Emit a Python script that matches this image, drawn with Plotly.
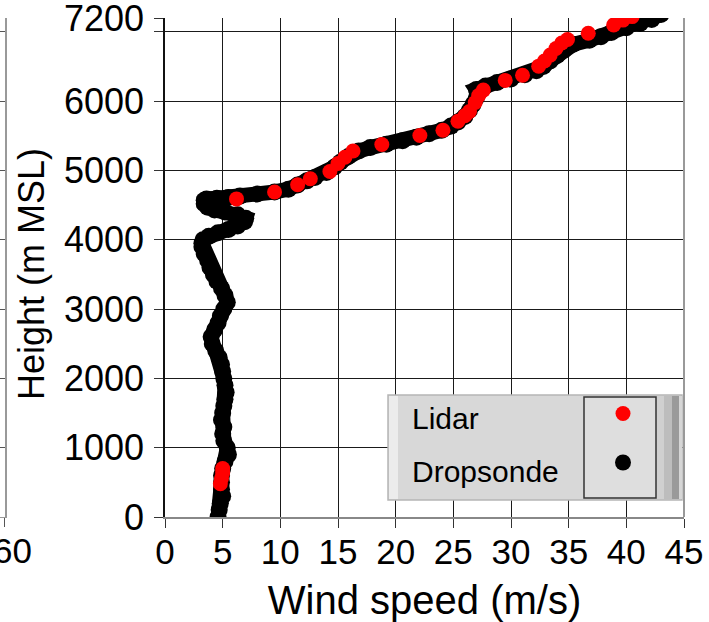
import plotly.graph_objects as go

# ---------------- data ----------------
drop_height = [0, 100, 200, 300, 400, 500, 600, 700, 800, 900, 1000, 1100, 1200, 1300,
               1400, 1500, 1600, 1700, 1800, 1900, 2000, 2100, 2200, 2300, 2400, 2500,
               2600, 2700, 2800, 2900, 3000, 3100, 3200, 3300, 3400, 3500, 3600, 3700,
               3800, 3900, 3950, 4000, 4050, 4100, 4150, 4200, 4260, 4310, 4360, 4400,
               4430, 4470, 4520, 4570, 4590, 4600, 4610, 4630, 4660, 4690, 4730, 4790,
               4850, 4900, 4970, 5050, 5120, 5200, 5280, 5330, 5380, 5430, 5480, 5530,
               5580, 5640, 5700, 5780, 5870, 5950, 6050, 6120, 6170, 6220, 6270, 6320,
               6380, 6440, 6500, 6580, 6660, 6740, 6820, 6880, 6930, 6990, 7060, 7120,
               7180, 7250]
drop_speed = [4.6, 4.7, 4.8, 5.0, 4.9, 4.9, 4.9, 5.0, 5.2, 5.5, 5.4, 5.1, 5.0, 5.1,
              4.9, 5.0, 5.1, 5.2, 5.3, 5.2, 5.1, 5.0, 4.9, 4.7, 4.4, 4.1,
              4.0, 4.3, 4.6, 4.8, 5.1, 5.4, 5.2, 4.9, 4.5, 4.2, 3.9, 3.7,
              3.4, 3.2, 3.2, 3.3, 3.8, 4.6, 5.5, 6.3, 6.9, 7.0, 6.3, 5.2,
              4.3, 3.7, 3.4, 3.4, 3.6, 4.5, 5.5, 6.5, 8.0, 9.5, 10.7, 11.5,
              12.3, 13.0, 14.0, 14.7, 15.2, 15.9, 16.8, 17.8, 19.2, 20.6, 21.8, 22.9,
              24.0, 24.8, 25.4, 26.0, 26.4, 26.7, 27.0, 27.2, 27.0, 27.8, 28.8, 30.0,
              31.2, 32.2, 32.8, 33.4, 34.0, 34.6, 35.4, 36.8, 37.8, 38.7, 40.0, 41.2,
              42.2, 43.0]

lidar_height = [480, 560, 640, 700, 4590, 4690, 4795, 4880, 4985, 5100, 5190, 5280,
                5375, 5505, 5580, 5710, 5790, 5850, 5980, 6080, 6160, 6300, 6375,
                6505, 6580, 6665, 6760, 6840, 6890, 6980, 7100, 7170, 7220]
lidar_speed = [4.8, 4.9, 5.0, 5.0, 6.2, 9.5, 11.5, 12.6, 14.3, 15.0, 15.6, 16.3,
               18.8, 22.1, 24.1, 25.4, 26.0, 26.4, 26.9, 27.2, 27.6, 29.5, 31.0,
               32.4, 32.9, 33.4, 33.9, 34.4, 34.9, 36.7, 38.9, 39.7, 40.5]

x_ticks = [0, 5, 10, 15, 20, 25, 30, 35, 40, 45]
y_ticks = [0, 1000, 2000, 3000, 4000, 5000, 6000, 7200]
y_minor = [7000]
left_panel_ticks = [60]

FONT = "Liberation Sans, Arial, Helvetica, sans-serif"
W, H = 709, 622
ML, MR, MT, MB = 0, 0, 18, 105
PX0, PX1 = 165, 684  # plot area in pixels


def px(x):
    return x / W


def py(y):
    return (H - MB - y) / (H - MT - MB)


fig = go.Figure()

# Dropsonde: thick band (line) plus markers; marker trace carries the legend entry
fig.add_trace(go.Scatter(
    x=drop_speed, y=drop_height, mode="lines",
    line=dict(color="black", width=15),
    name="Dropsonde", showlegend=False, legendgroup="d"))
fig.add_trace(go.Scatter(
    x=drop_speed, y=drop_height, mode="markers",
    marker=dict(color="black", size=17),
    name="Dropsonde", showlegend=True, legendgroup="d", legendrank=2))
fig.add_trace(go.Scatter(
    x=lidar_speed, y=lidar_height, mode="markers",
    marker=dict(color="#ff0000", size=15),
    name="Lidar", showlegend=True, legendgroup="l", legendrank=1))

# neighbouring panel fragment (left edge)
fig.add_trace(go.Scatter(x=[], y=[], xaxis="x2", yaxis="y2", showlegend=False))

grid_c = "#1a1a1a"
fig.update_layout(
    template="none",
    width=W, height=H,
    margin=dict(l=ML, r=MR, t=MT, b=MB, autoexpand=False),
    paper_bgcolor="white", plot_bgcolor="white",
    font=dict(family=FONT, color="black"),
    xaxis=dict(
        domain=[PX0 / W, PX1 / W], range=[0, 45], tickvals=x_ticks,
        ticks="outside", ticklen=9, tickcolor="#333", tickwidth=1,
        showgrid=True, gridcolor=grid_c, gridwidth=1.3, zeroline=False,
        showline=True, linecolor="#888", linewidth=1.5, automargin=False,
        ticklabeloverflow="allow", ticklabelstandoff=-6,
        tickfont=dict(size=35, family=FONT, color="black"),
        title=dict(text="Wind speed (m/s)", font=dict(size=40, family=FONT, color="black")),
        anchor="y"),
    yaxis=dict(
        domain=[0, 1], range=[0, 7200], tickvals=y_ticks,
        ticks="outside", ticklen=9, tickcolor="#333", tickwidth=1,
        minor=dict(tickvals=y_minor, ticks="outside", ticklen=9, tickcolor="#333",
                   showgrid=True, gridcolor=grid_c, gridwidth=1.3),
        showgrid=True, gridcolor=grid_c, gridwidth=1.3, zeroline=False,
        showline=True, linecolor="#111", linewidth=1.5, automargin=False,
        ticklabeloverflow="allow", ticklabelstandoff=3,
        tickfont=dict(size=36, family=FONT, color="black"),
        anchor="x"),
    xaxis2=dict(
        domain=[0, 4.5 / W], range=[59, 60], tickvals=left_panel_ticks,
        ticks="outside", ticklen=9, tickcolor="#555", showgrid=False, zeroline=False,
        showline=True, linecolor="#999", linewidth=1.2, automargin=False,
        ticklabeloverflow="allow", ticklabelstandoff=-6,
        tickfont=dict(size=35, family=FONT, color="black"), ticklabelshift=8,
        anchor="y2"),
    yaxis2=dict(
        domain=[0, 1], range=[0, 7200], tickvals=y_ticks + y_minor,
        showticklabels=False, ticks="", side="right", automargin=False,
        showgrid=True, gridcolor="#555", gridwidth=1.2, zeroline=False,
        showline=True, linecolor="#999", linewidth=1.5, anchor="x2"),
    showlegend=True,
    legend=dict(
        x=px(603), y=py(399), xanchor="left", yanchor="top",
        bgcolor="rgba(0,0,0,0)", borderwidth=0,
        font=dict(size=1, color="rgba(0,0,0,0)"),
        itemwidth=30, tracegroupgap=30, itemclick=False, itemdoubleclick=False),
)

# y-axis title placed as rotated text beside the tick labels
fig.add_annotation(text="Height (m MSL)", xref="paper", yref="paper",
                   x=px(31), y=py(274), textangle=-90, showarrow=False,
                   xanchor="center", yanchor="middle",
                   font=dict(size=36, family=FONT, color="black"))

# right frame edge (grey)
fig.add_shape(type="line", xref="x domain", yref="y domain", x0=1, x1=1, y0=0, y1=1,
              line=dict(color="#999", width=2), layer="above")

# legend bezel
shapes = [
    dict(x0=388, x1=682, y0=395, y1=500, fill="#d8d8d8", line="#b5b5b5"),
    dict(x0=389, x1=398, y0=396, y1=499, fill="#ececec", line=None),
    dict(x0=656, x1=664, y0=396, y1=499, fill="#d0d0d0", line=None),
    dict(x0=664, x1=672, y0=396, y1=499, fill="#bdbdbd", line=None),
    dict(x0=672, x1=679, y0=396, y1=499, fill="#9a9a9a", line=None),
    dict(x0=679, x1=682, y0=396, y1=499, fill="#d6d6d6", line=None),
    dict(x0=584, x1=656, y0=397, y1=498, fill="#dedede", line="#333"),
]
for s in shapes:
    fig.add_shape(type="rect", xref="paper", yref="paper",
                  x0=px(s["x0"]), x1=px(s["x1"]), y0=py(s["y1"]), y1=py(s["y0"]),
                  fillcolor=s["fill"],
                  line=dict(color=s["line"] or "rgba(0,0,0,0)", width=1.5 if s["line"] else 0),
                  layer="above")

for text, ypix in [("Lidar", 418), ("Dropsonde", 471)]:
    fig.add_annotation(text=text, xref="paper", yref="paper", x=px(410), y=py(ypix),
                       xanchor="left", yanchor="middle", showarrow=False,
                       font=dict(size=30, family=FONT, color="black"))

fig.write_html("out.html", config={"displayModeBar": False},
               post_script="document.body.style.margin='0';document.body.style.overflow='hidden';")
